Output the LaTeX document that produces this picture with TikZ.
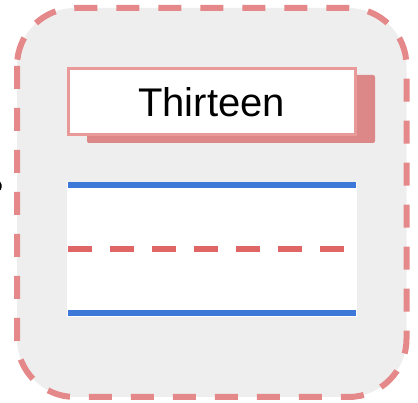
\documentclass[tikz,border=0pt]{standalone}
\usepackage{fontspec}
\setmainfont{Liberation Sans}
\definecolor{bgGray}{HTML}{EEEEEE}
\definecolor{outerPink}{HTML}{E5888A}
\definecolor{titlePink}{HTML}{EA9999}
\definecolor{shadowPink}{HTML}{DD8888}
\definecolor{laneBlue}{HTML}{3C78D8}
\definecolor{laneRed}{HTML}{E06666}
\begin{document}
\begin{tikzpicture}[x=1pt,y=-1pt,
  outerbox/.style={fill=bgGray,draw=outerPink,line width=6pt,rounded corners=58pt,dash pattern=on 23pt off 19pt},
  titlebox/.style={draw=titlePink,fill=white,line width=3pt,minimum width=287pt,minimum height=66pt,inner sep=0pt,font=\fontsize{40}{48}\selectfont},
  shadowbox/.style={fill=shadowPink,rounded corners=2pt,minimum width=288pt,minimum height=68pt,inner sep=0pt},
  lanebox/.style={fill=white,minimum width=290pt,minimum height=135pt,inner sep=0pt},
  blueline/.style={draw=laneBlue,line width=6pt},
  reddash/.style={draw=laneRed,line width=6pt,dash pattern=on 24pt off 18pt}]
\useasboundingbox (0,0) rectangle (418,403);
\draw[outerbox] (17,8) rectangle (406.5,397);
\node[shadowbox] (shadow) at (231,109) {};
\node[titlebox] (title) at (211.5,102) {Thirteen};
\node[lanebox] (lane) at (212,249.5) {};
\coordinate (bt1) at (68,185);
\coordinate (bt2) at (356,185);
\coordinate (bb1) at (68,313);
\coordinate (bb2) at (356,313);
\coordinate (rd1) at (68,249);
\coordinate (rd2) at (346,249);
\draw[blueline] (bt1) -- (bt2);
\draw[blueline] (bb1) -- (bb2);
\draw[reddash] (rd1) -- (rd2);
\draw[black,line width=1.5pt] (-2,181) arc[start angle=60,end angle=-60,radius=6pt];
\end{tikzpicture}
\end{document}
